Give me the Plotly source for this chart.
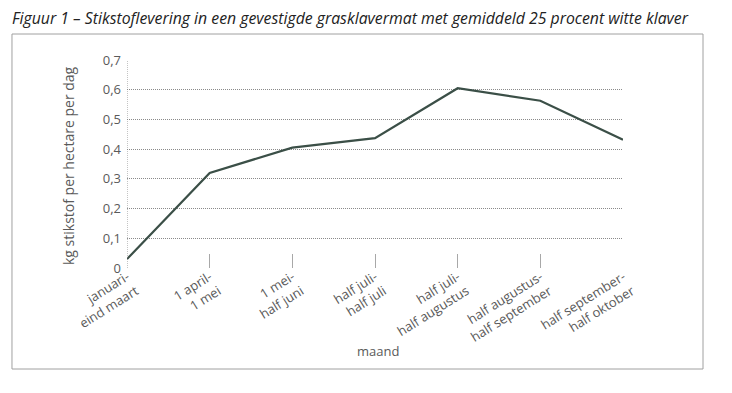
import plotly.graph_objects as go

categories = ["januari-<br>eind maart", "1 april-<br>1 mei", "1 mei-<br>half juni",
              "half juli-<br>half juli", "half juli-<br>half augustus",
              "half augustus-<br>half september", "half september-<br>half oktober"]
values = [0.03, 0.32, 0.405, 0.437, 0.605, 0.563, 0.432]
y_ticks = [0, 0.1, 0.2, 0.3, 0.4, 0.5, 0.6, 0.7]
y_ticktext = ["0", "0,1", "0,2", "0,3", "0,4", "0,5", "0,6", "0,7"]

FONT = "Open Sans"
GREY = "#5a5a5a"
x = list(range(len(categories)))

fig = go.Figure()
fig.add_trace(go.Scatter(x=x, y=values, mode="lines",
                         line=dict(color="#3b4f47", width=2.2),
                         hoverinfo="skip", showlegend=False))
# helper trace for tick marks axis
fig.add_trace(go.Scatter(x=[0, 6], y=[0, 0], xaxis="x2", mode="lines",
                         line=dict(width=0), hoverinfo="skip", showlegend=False))

fig.update_layout(
    width=724, height=385,
    margin=dict(l=119, r=109, t=52, b=125),
    paper_bgcolor="white", plot_bgcolor="white",
    font=dict(family=FONT, color=GREY),
    xaxis=dict(range=[0, 6], tickvals=x, ticktext=categories, tickangle=-32,
               showgrid=False, zeroline=False, showline=False, ticks="",
               ticklabelstandoff=-2,
               tickfont=dict(size=13, color=GREY, family=FONT)),
    xaxis2=dict(range=[0, 6], overlaying="x", side="bottom", tickvals=x[1:],
                ticks="inside", ticklen=14, tickcolor="#a8a8a8", tickwidth=1,
                showticklabels=False, showgrid=False, zeroline=False, showline=False),
    yaxis=dict(range=[0, 0.7], tickvals=y_ticks, ticktext=y_ticktext,
               showgrid=True, gridcolor="#8a8a8a", griddash="1px,1px", gridwidth=1,
               zeroline=False, showline=False, ticks="", ticklabelstandoff=5,
               tickfont=dict(size=13, color=GREY, family=FONT)),
    shapes=[
        dict(type="line", xref="x", yref="y", x0=0, x1=0, y0=0, y1=0.7,
             line=dict(color="#8a8a8a", width=1, dash="1px,1px")),
        dict(type="rect", xref="paper", yref="paper", x0=-0.2319, x1=1.1613,
             y0=-0.4856, y1=1.125, line=dict(color="#a0a0a0", width=1)),
    ],
    annotations=[
        dict(text="<i>Figuur 1 – Stikstoflevering in een gevestigde grasklavermat met gemiddeld 25 procent witte klaver</i>",
             xref="paper", yref="paper", x=-0.236, y=1.202, xanchor="left", yanchor="middle",
             showarrow=False, font=dict(size=15.8, color="#222222", family=FONT)),
        dict(text="kg stikstof per hectare per dag", textangle=-90,
             xref="paper", yref="paper", x=-0.1190, y=0.495, xanchor="center", yanchor="middle",
             showarrow=False, font=dict(size=14, color=GREY, family=FONT)),
        dict(text="maand", xref="paper", yref="paper", x=0.506, y=-0.4,
             xanchor="center", yanchor="middle", showarrow=False,
             font=dict(size=13, color=GREY, family=FONT)),
    ],
)

fig.write_html("out.html")
